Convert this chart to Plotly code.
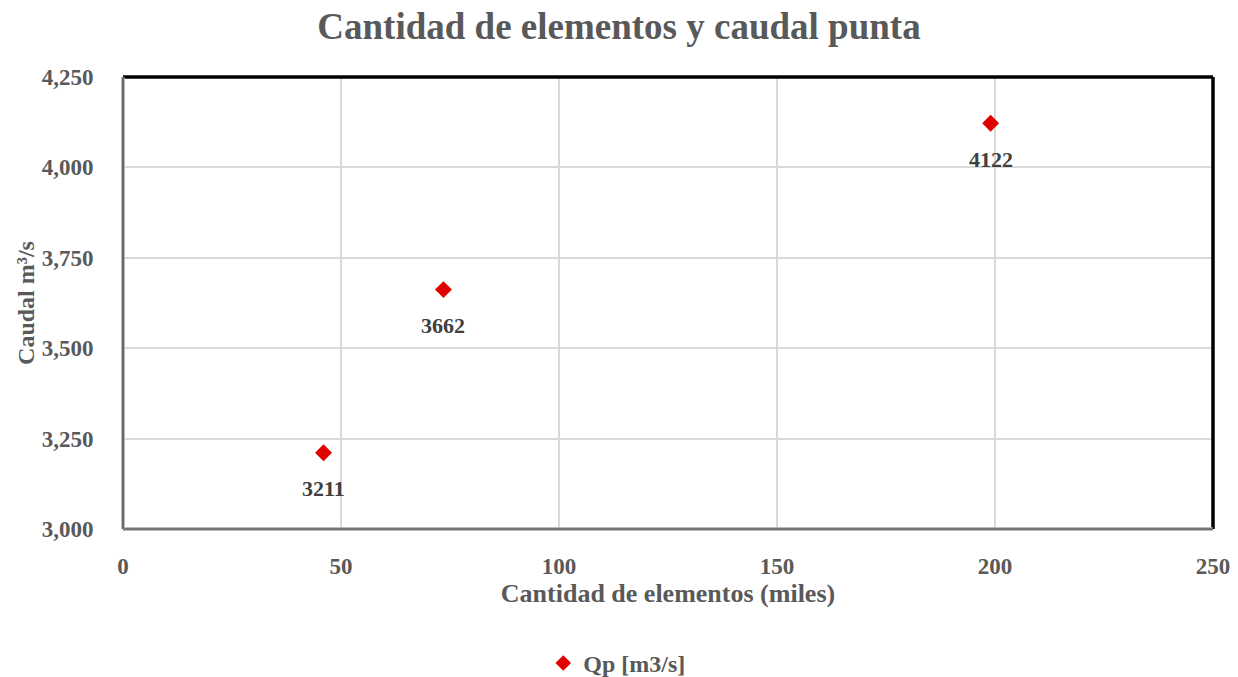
import plotly.graph_objects as go

# Cantidad de elementos (miles) y caudal punta Qp [m3/s]
elementos_miles = [46, 73.5, 199]
caudal_qp = [3211, 3662, 4122]

x_ticks = [0, 50, 100, 150, 200, 250]
y_ticks = [3000, 3250, 3500, 3750, 4000, 4250]

FONT = "Liberation Serif"
GREY = "#595959"

fig = go.Figure()
fig.add_trace(go.Scatter(
    x=elementos_miles,
    y=caudal_qp,
    mode="markers",
    name="Qp [m3/s]",
    marker=dict(symbol="diamond", size=13, color="#E00000",
                line=dict(width=0)),
))

# Value labels under each point
for xv, yv in zip(elementos_miles, caudal_qp):
    fig.add_annotation(x=xv, y=yv, text=f"<b>{yv}</b>", showarrow=False,
                       yshift=-36, xanchor="center", yanchor="middle",
                       font=dict(family=FONT, size=22, color="#404040"))

fig.update_layout(
    width=1238, height=677,
    margin=dict(l=123, r=25, t=77, b=148, autoexpand=False),
    paper_bgcolor="white",
    plot_bgcolor="white",
    title=dict(text="<b>Cantidad de elementos y caudal punta</b>",
               x=0.5, xanchor="center", y=0.962, yanchor="middle",
               font=dict(family=FONT, size=37, color=GREY)),
    font=dict(family=FONT, color=GREY),
    showlegend=True,
    legend=dict(orientation="h", x=0.453, xanchor="center",
                yref="container", y=0.02, yanchor="middle",
                font=dict(family=FONT, size=24, color=GREY, weight="bold"),
                itemsizing="constant", itemwidth=30),
    xaxis=dict(range=[0, 250], tickvals=x_ticks,
               tickformat=",d", automargin=False,
               showgrid=True, gridcolor="#D9D9D9", gridwidth=1.5,
               zeroline=False, showline=False,
               ticks="outside", ticklen=16, tickcolor="rgba(0,0,0,0)",
               tickfont=dict(family=FONT, size=23, color=GREY, weight="bold"),
               title=dict(text="<b>Cantidad de elementos (miles)</b>",
                          font=dict(family=FONT, size=26, color=GREY),
                          standoff=6)),
    yaxis=dict(range=[3000, 4250], tickvals=y_ticks,
               tickformat=",d", automargin=False,
               showgrid=True, gridcolor="#D9D9D9", gridwidth=1.5,
               zeroline=False, showline=False,
               ticks="outside", ticklen=24, tickcolor="rgba(0,0,0,0)",
               tickfont=dict(family=FONT, size=23, color=GREY, weight="bold"),
               title=dict(text="<b>Caudal m³/s</b>",
                          font=dict(family=FONT, size=24, color=GREY),
                          standoff=0)),
)

# Plot-area frame: dark on top/right, shaded grey on left/bottom
fig.add_shape(type="line", xref="paper", yref="paper", x0=0, y0=1, x1=1, y1=1,
              line=dict(color="black", width=3.5))
fig.add_shape(type="line", xref="paper", yref="paper", x0=1, y0=0, x1=1, y1=1,
              line=dict(color="black", width=3.5))
fig.add_shape(type="line", xref="paper", yref="paper", x0=0, y0=0, x1=1, y1=0,
              line=dict(color="#A6A6A6", width=3.5))
fig.add_shape(type="line", xref="paper", yref="paper", x0=0, y0=0, x1=1, y1=0,
              line=dict(color="#404040", width=1.2))
fig.add_shape(type="line", xref="paper", yref="paper", x0=0, y0=0, x1=0, y1=1,
              line=dict(color="#A6A6A6", width=3.5))
fig.add_shape(type="line", xref="paper", yref="paper", x0=0, y0=0, x1=0, y1=1,
              line=dict(color="#404040", width=1.2))

fig.write_html("out.html")
